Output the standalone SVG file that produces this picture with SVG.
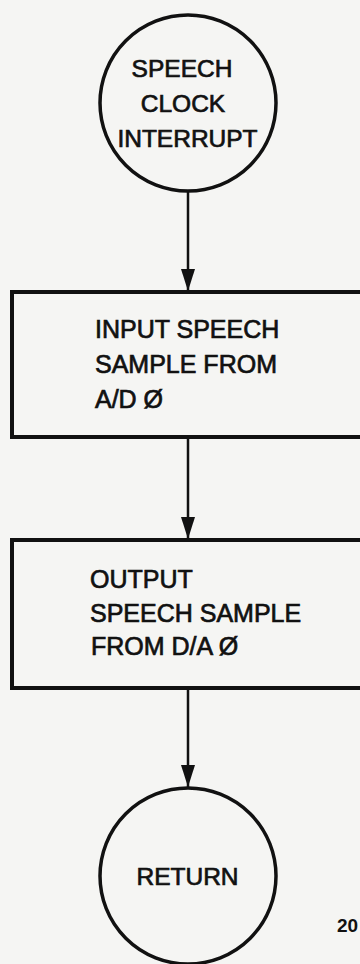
<svg xmlns="http://www.w3.org/2000/svg" width="360" height="964" viewBox="0 0 360 964">
<style>
.bg{fill:#f5f5f3}
.shape{fill:none;stroke:#111;stroke-width:3.5}
.box{fill:none;stroke:#111;stroke-width:4}
.conn{stroke:#111;stroke-width:2.5;fill:none}
.t{font-family:"Liberation Sans",Arial,sans-serif;font-size:25px;fill:#111;stroke:#111;stroke-width:0.7}
.tc{font-family:"Liberation Sans",Arial,sans-serif;font-size:24.5px;fill:#111;stroke:#111;stroke-width:0.7;text-anchor:middle}
.pg{font-family:"Liberation Sans",Arial,sans-serif;font-size:19px;font-weight:bold;fill:#111}
</style>
<defs>
<marker id="arr" markerUnits="userSpaceOnUse" markerWidth="22" markerHeight="14" refX="22" refY="7" orient="auto" viewBox="0 0 22 14">
<path d="M0,0 L22,7 L0,14 Z" fill="#111"/>
</marker>
</defs>
<rect class="bg" x="0" y="0" width="360" height="964"/>
<g id="connectors">
<line class="conn" x1="188" y1="191" x2="188" y2="291" marker-end="url(#arr)"/>
<line class="conn" x1="188" y1="437" x2="188" y2="539" marker-end="url(#arr)"/>
<line class="conn" x1="188" y1="688" x2="188" y2="787" marker-end="url(#arr)"/>
</g>
<g id="start">
<circle class="shape" cx="188" cy="103" r="88"/>
<text class="tc" x="182" y="77">SPEECH</text>
<text class="tc" x="183" y="112">CLOCK</text>
<text class="tc" x="187.5" y="147">INTERRUPT</text>
</g>
<g id="input">
<rect class="box" x="12" y="292" width="370" height="145"/>
<text class="t" x="95" y="338">INPUT SPEECH</text>
<text class="t" x="95" y="373">SAMPLE FROM</text>
<text class="t" x="95" y="408">A/D Ø</text>
</g>
<g id="output">
<rect class="box" x="12" y="540" width="370" height="148"/>
<text class="t" x="90" y="588">OUTPUT</text>
<text class="t" x="90" y="622">SPEECH SAMPLE</text>
<text class="t" x="91" y="655">FROM D/A Ø</text>
</g>
<g id="return">
<circle class="shape" cx="188" cy="876" r="88"/>
<text class="tc" x="187.5" y="885">RETURN</text>
</g>
<text class="pg" x="337" y="932">20</text>
</svg>
